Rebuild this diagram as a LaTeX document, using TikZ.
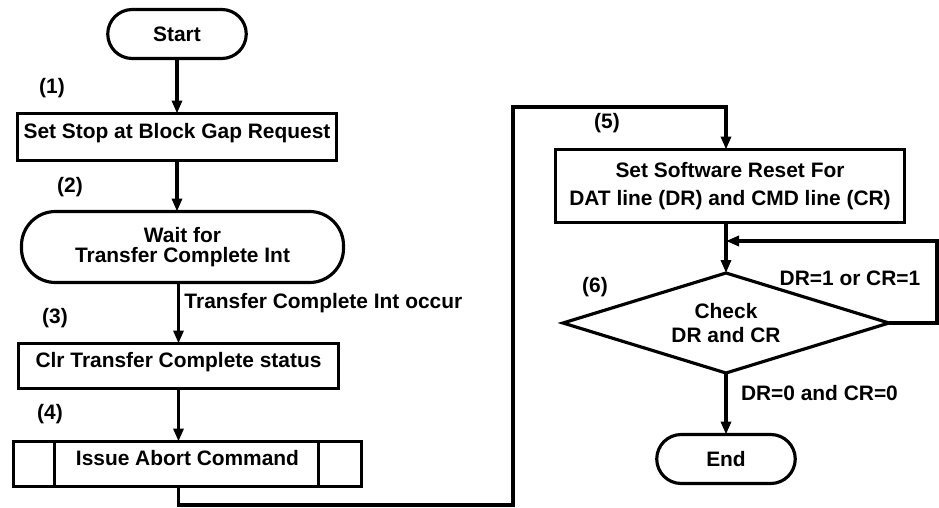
\documentclass[tikz,border=0pt]{standalone}
\usepackage{fontspec}
\setmainfont{Liberation Sans}
\usetikzlibrary{shapes.geometric, arrows.meta, positioning}

\begin{document}
\begin{tikzpicture}[>={Triangle[length=0.26cm, width=0.2cm]}, line width=1.8pt, font=\bfseries\fontsize{11.9}{13.5}\selectfont,
 every node/.style={outer sep=0pt},
 term/.style={draw, rectangle, rounded corners=0.49cm, minimum width=2.77cm, minimum height=0.98cm, align=center},
 proc/.style={draw, rectangle, minimum height=0.9cm, align=center},
 lift/.style={text height=0.3cm, text depth=0.25cm},
 cond/.style={draw, diamond, shape aspect=3.26, minimum width=6.52cm, minimum height=2cm, inner sep=0pt, align=center},
 tag/.style={inner sep=0pt}]
\useasboundingbox (0,0) rectangle (18.78,-10.16);
% left column
\node[term] (start) at (3.54,-0.68) {Start};
\node[proc, lift, minimum width=6.38cm, minimum height=0.94cm, below=1.1cm of start] (stop) {Set Stop at Block Gap Request};
\node[term, minimum width=6.44cm, minimum height=1.42cm, rounded corners=0.68cm, below=1.02cm of stop, xshift=0.11cm] (wait) {Wait for\\[-2pt]Transfer Complete Int};
\node[proc, lift, minimum width=6.4cm, below=1.22cm of wait, xshift=-0.08cm] (clr) {Clr Transfer Complete status};
\node[proc, lift, minimum width=6.96cm, below=1.06cm of clr, xshift=0.18cm] (abort) {Issue Abort Command};
\draw ([xshift=0.82cm]abort.north west) -- ([xshift=0.82cm]abort.south west);
\draw ([xshift=-0.86cm]abort.north east) -- ([xshift=-0.86cm]abort.south east);
% right column
\node[proc, minimum width=6.98cm, minimum height=1.46cm] (reset) at (14.6,-3.72) {Set Software Reset For\\[2pt]DAT line (DR) and CMD line (CR)};
\node[cond, below=1.01cm of reset, xshift=-0.08cm] (check) {Check\\DR and CR};
\node[term, below=1.23cm of check] (done) {End};
% step numbers
\node[tag] (n1) at (1.04,-1.76) {(1)};
\node[tag] (n2) at (1.4,-3.74) {(2)};
\node[tag] (n3) at (1.1,-6.36) {(3)};
\node[tag] (n4) at (1.0,-8.28) {(4)};
\node[tag] (n5) at (12.14,-2.46) {(5)};
\node[tag] (n6) at (11.9,-5.74) {(6)};
% connectors
\coordinate (lpa) at (10.26,-10.1);
\coordinate (lpb) at (14.52,-2.14);
\coordinate (lpc) at (18.74,-4.82);
\draw[->] (start) -- (stop);
\draw[->] (stop.south) -- (stop.south |- wait.north);
\draw[->] (wait.south -| clr.north) -- node[tag, right=0.12cm, yshift=0.2cm] (occur) {Transfer Complete Int occur} (clr.north);
\draw[->] (clr.south) -- (clr.south |- abort.north);
\draw[->] (abort.south -| clr.south) |- (lpa) |- (lpb) -- (lpb |- reset.north);
\draw[->] (reset.south -| check.north) -- (check.north);
\draw[->] (check.east) -| (lpc) -- (lpc -| check.north);
\draw[->] (check.south) -- node[tag, right=0.3cm, yshift=0.22cm] (no) {DR=0 and CR=0} (done.north);
\node[tag] (yes) at (17.0,-5.56) {DR=1 or CR=1};
\end{tikzpicture}
\end{document}
